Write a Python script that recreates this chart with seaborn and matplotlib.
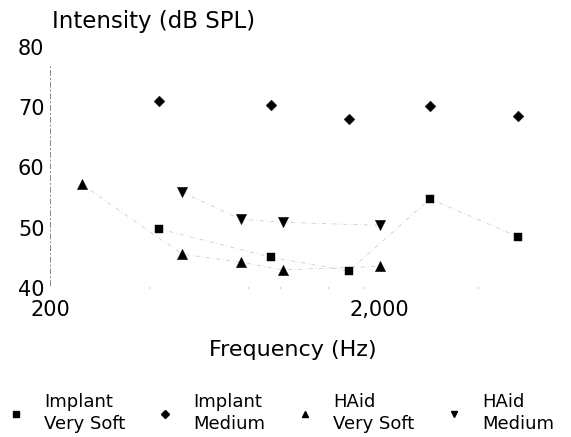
import numpy as np
import pandas as pd
import matplotlib
matplotlib.use("Agg")
import matplotlib.pyplot as plt
from matplotlib.lines import Line2D
from matplotlib.ticker import FixedLocator, NullFormatter
import seaborn as sns

# ---------------------------------------------------------------------------
# Data
# ---------------------------------------------------------------------------
implant_freq = [430, 940, 1620, 2860, 5300]
implant_very_soft = [49.8, 45.1, 42.8, 54.8, 48.5]
implant_medium = [71.0, 70.3, 68.0, 70.2, 68.5]

haid_soft_freq = [250, 505, 760, 1020, 2010]
haid_very_soft = [57.2, 45.6, 44.3, 43.0, 43.6]

haid_med_freq = [505, 760, 1020, 2010]
haid_medium = [55.9, 51.4, 50.9, 50.4]

series_names = ["Implant\nVery Soft", "Implant\nMedium", "HAid\nVery Soft", "HAid\nMedium"]
x_ticks = [200, 2000]
x_tick_labels = ["200", "2,000"]
y_ticks = [40, 50, 60, 70, 80]

frames = [
    pd.DataFrame({"freq": implant_freq, "level": implant_very_soft, "series": series_names[0]}),
    pd.DataFrame({"freq": implant_freq, "level": implant_medium, "series": series_names[1]}),
    pd.DataFrame({"freq": haid_soft_freq, "level": haid_very_soft, "series": series_names[2]}),
    pd.DataFrame({"freq": haid_med_freq, "level": haid_medium, "series": series_names[3]}),
]
df = pd.concat(frames, ignore_index=True)

markers = {series_names[0]: "s", series_names[1]: "D",
           series_names[2]: "^", series_names[3]: "v"}
sizes = {series_names[0]: 30, series_names[1]: 30,
         series_names[2]: 55, series_names[3]: 55}

# ---------------------------------------------------------------------------
# Plot
# ---------------------------------------------------------------------------
sns.set_style("white")
plt.rcParams["font.family"] = ["DejaVu Sans"]
plt.rcParams["text.color"] = "black"
plt.rcParams["axes.labelcolor"] = "black"
plt.rcParams["xtick.color"] = "black"
plt.rcParams["ytick.color"] = "black"

fig = plt.figure(figsize=(5.71, 4.37), dpi=100)
ax = fig.add_axes([0.0876, 0.341, 0.851, 0.5515])

# faint connecting lines (mostly lost in the scan)
lined = df[df["series"] != series_names[1]]
sns.lineplot(data=lined, x="freq", y="level", units="series", estimator=None,
             color="#c4c4c4", lw=0.5, ls=(0, (6, 4, 1, 4)), ax=ax, legend=False)

for name in series_names:
    sub = df[df["series"] == name]
    sns.scatterplot(data=sub, x="freq", y="level", marker=markers[name],
                    s=sizes[name], color="black", edgecolor="black",
                    linewidth=0.3, ax=ax, legend=False, zorder=3)

ax.set_xscale("log")
ax.set_xlim(200, 6000)
ax.set_ylim(40, 80)
ax.xaxis.set_major_locator(FixedLocator(x_ticks))
ax.set_xticklabels(x_tick_labels)
ax.xaxis.set_minor_locator(FixedLocator([400, 800, 1000, 1400, 1800, 4000]))
ax.xaxis.set_minor_formatter(NullFormatter())
ax.set_yticks(y_ticks)
ax.tick_params(axis="x", which="major", length=0, pad=9, labelsize=15)
ax.tick_params(axis="x", which="minor", length=1, width=0.8, color="#aaaaaa",
               direction="in", bottom=True)
ax.tick_params(axis="y", length=0, pad=4, labelsize=15)

for side in ["top", "right", "bottom"]:
    ax.spines[side].set_visible(False)
ax.spines["left"].set_bounds(40.5, 77)
ax.spines["left"].set_linestyle((0, (5, 3, 1, 3)))
ax.spines["left"].set_color("#888888")
ax.spines["left"].set_linewidth(0.7)

ax.set_xlabel("Frequency (Hz)", fontsize=16, labelpad=14)
ax.set_ylabel("")
fig.text(52 / 571, 1 - 28 / 437, "Intensity (dB SPL)", fontsize=16.5,
         ha="left", va="baseline")

handles = [Line2D([], [], ls="none", marker=markers[n], color="black",
                  markersize=4 if n in series_names[:2] else 5)
           for n in series_names]
leg = fig.legend(handles, series_names, loc="center left", ncol=4,
                 bbox_to_anchor=(0.0, 1 - 413 / 437), frameon=False, fontsize=13,
                 handlelength=1.0, handletextpad=1.05, columnspacing=1.7,
                 borderaxespad=0.0, labelspacing=0.2)
for t in leg.get_texts():
    t.set_linespacing(1.3)

fig.savefig("out.png", dpi=100)
